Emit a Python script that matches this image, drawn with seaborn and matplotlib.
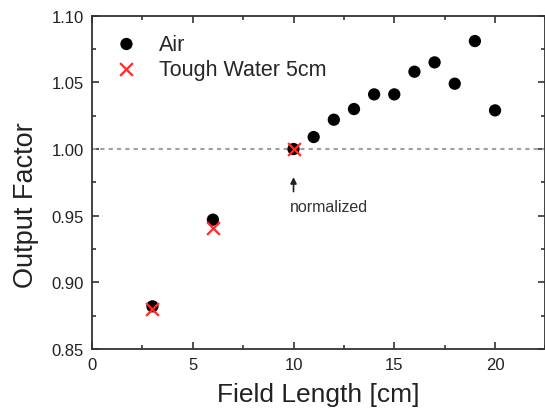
import numpy as np
import pandas as pd
import matplotlib
matplotlib.use("Agg")
import matplotlib.pyplot as plt
import seaborn as sns
from matplotlib.ticker import MultipleLocator, FormatStrFormatter

# data
air_length = [3, 6, 10, 11, 12, 13, 14, 15, 16, 17, 18, 19, 20]
air_factor = [0.882, 0.947, 1.000, 1.009, 1.022, 1.030, 1.041, 1.041, 1.058, 1.065, 1.049, 1.081, 1.029]
water_length = [3, 6, 10]
water_factor = [0.880, 0.941, 1.000]

sns.set_style("ticks")
plt.rcParams["font.family"] = ["Liberation Sans", "DejaVu Sans"]

fig = plt.figure(figsize=(5.45, 4.14), dpi=100)
ax = fig.add_axes([0.1688, 0.1546, 0.832, 0.805])

ax.axhline(1.0, color="#a0a0a0", ls=(0, (2, 2)), lw=1.5, zorder=1)

sns.scatterplot(x=air_length, y=air_factor, color="black", s=78, edgecolor="none",
                label="Air", ax=ax, zorder=3)
sns.scatterplot(x=water_length, y=water_factor, color="#ff2a2a", marker="x", s=85,
                linewidth=1.6, label="Tough Water 5cm", ax=ax, zorder=4)

ax.set_xlim(0, 22.5)
ax.set_ylim(0.85, 1.10)
ax.xaxis.set_major_locator(MultipleLocator(5))
ax.xaxis.set_minor_locator(MultipleLocator(2.5))
ax.yaxis.set_major_locator(MultipleLocator(0.05))
ax.yaxis.set_minor_locator(MultipleLocator(0.025))
ax.yaxis.set_major_formatter(FormatStrFormatter("%.2f"))
ax.tick_params(which="both", direction="in", top=True, right=True, labelsize=12,
               width=1.2, colors="#333333", labelcolor="#222222", pad=6)
ax.tick_params(which="major", length=5)
ax.tick_params(which="minor", length=3)
for s in ax.spines.values():
    s.set_linewidth(1.3)
    s.set_color("#333333")

ax.set_xlabel("Field Length [cm]", fontsize=19, color="#222222")
ax.xaxis.set_label_coords(0.5, -0.10)
ax.set_ylabel("Output Factor", fontsize=19.5, color="#222222")
ax.yaxis.set_label_coords(-0.117, 0.435)

ax.annotate("", xy=(10, 0.981), xytext=(10, 0.966),
            arrowprops=dict(arrowstyle="-|>", color="#222222", lw=1.2, mutation_scale=9))
ax.text(9.8, 0.957, "normalized", fontsize=11.5, va="center", ha="left", color="#333333")

ax.legend(loc="upper left", bbox_to_anchor=(0.0, 0.985), frameon=False, fontsize=15.5,
          handletextpad=0.5, labelspacing=0.2, markerscale=1.0, borderaxespad=0.2)

fig.savefig("out.png", dpi=100)
